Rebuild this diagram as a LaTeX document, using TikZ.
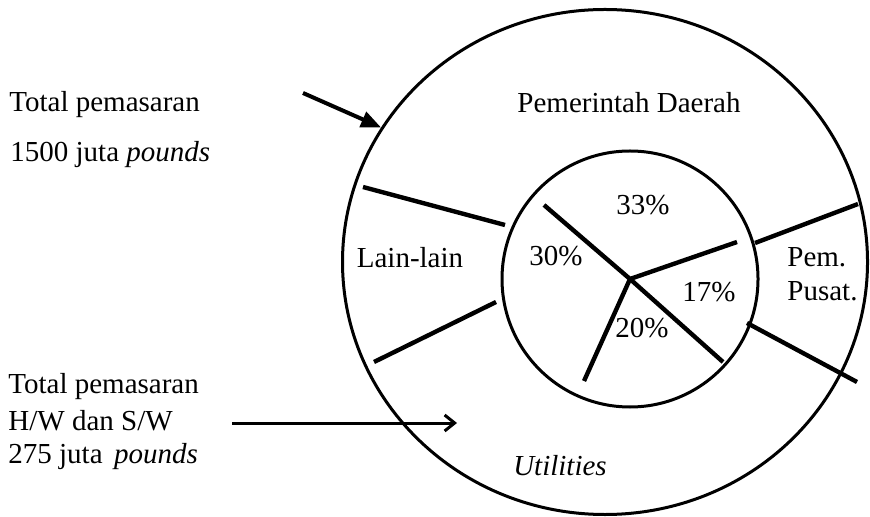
\documentclass[tikz,border=0pt]{standalone}
\usepackage{fontspec}
\setmainfont{Liberation Serif}
\usetikzlibrary{arrows.meta,shapes.geometric}

\begin{document}
\begin{tikzpicture}[
    x=0.5pt,
    y=-0.5pt,
    ring/.style={
        draw,
        line width=1.5pt,
        inner sep=0pt
    },
    cut/.style={
        line width=2.2pt
    },
    lbl/.style={
        font=\fontsize{14.5}{17}\selectfont,
        inner sep=0pt,
        anchor=base
    },
    note/.style={
        lbl,
        anchor=base west
    },
    parrow/.style={
        -{Triangle[length=10pt,width=8pt]},
        line width=2pt
    },
    harrow/.style={
        -{Straight Barb[length=5pt,width=8pt]},
        line width=1.5pt
    }
]
\useasboundingbox (0,0) rectangle (870,517);

% rings
\node[ring, ellipse, minimum width=262.5pt, minimum height=252.5pt] (outer) at (605,262) {};
\node[ring, circle, minimum size=128pt] (inner) at (630,279) {};
\coordinate (hub) at (630,279);

% pie slices
\draw[cut] (hub) -- (544,205);
\draw[cut] (hub) -- (737,242);
\draw[cut] (hub) -- (723,362);
\draw[cut] (hub) -- (584,381);

% outer ring parts
\draw[cut] (363,187) -- (505,225);
\draw[cut] (374,362) -- (496,302);
\draw[cut] (755,243) -- (858,204);
\draw[cut] (747,323) -- (857,382);

% ring labels
\node[lbl] (PD) at (629,113) {Pemerintah Daerah};
\node[lbl] (LL) at (410,268) {Lain-lain};
\node[note] (PP1) at (787,267) {Pem.};
\node[note] (PP2) at (787,301) {Pusat.};
\node[lbl] (UT) at (560,475) {\textit{Utilities}};

% percentages
\node[lbl] (P33) at (643,215) {33\%};
\node[lbl] (P30) at (556,266) {30\%};
\node[lbl] (P17) at (709,302) {17\%};
\node[lbl] (P20) at (642,337) {20\%};

% totals
\node[note] (TA1) at (9,112) {Total pemasaran};
\node[note] (TA2) at (10,162) {1500 juta \textit{pounds}};
\node[note] (TB1) at (8,393) {Total pemasaran};
\node[note] (TB2) at (8,430) {H/W dan S/W};
\node[note] (TB3) at (8,463) {275 juta\hspace{0.15em} \textit{pounds}};

% arrows
\coordinate (ta) at (303,93);
\coordinate (tb) at (232,423);
\coordinate (tc) at (457,423);
\draw[parrow] (ta) -- (outer.149);
\draw[harrow] (tb) -- (tc);

\end{tikzpicture}
\end{document}
